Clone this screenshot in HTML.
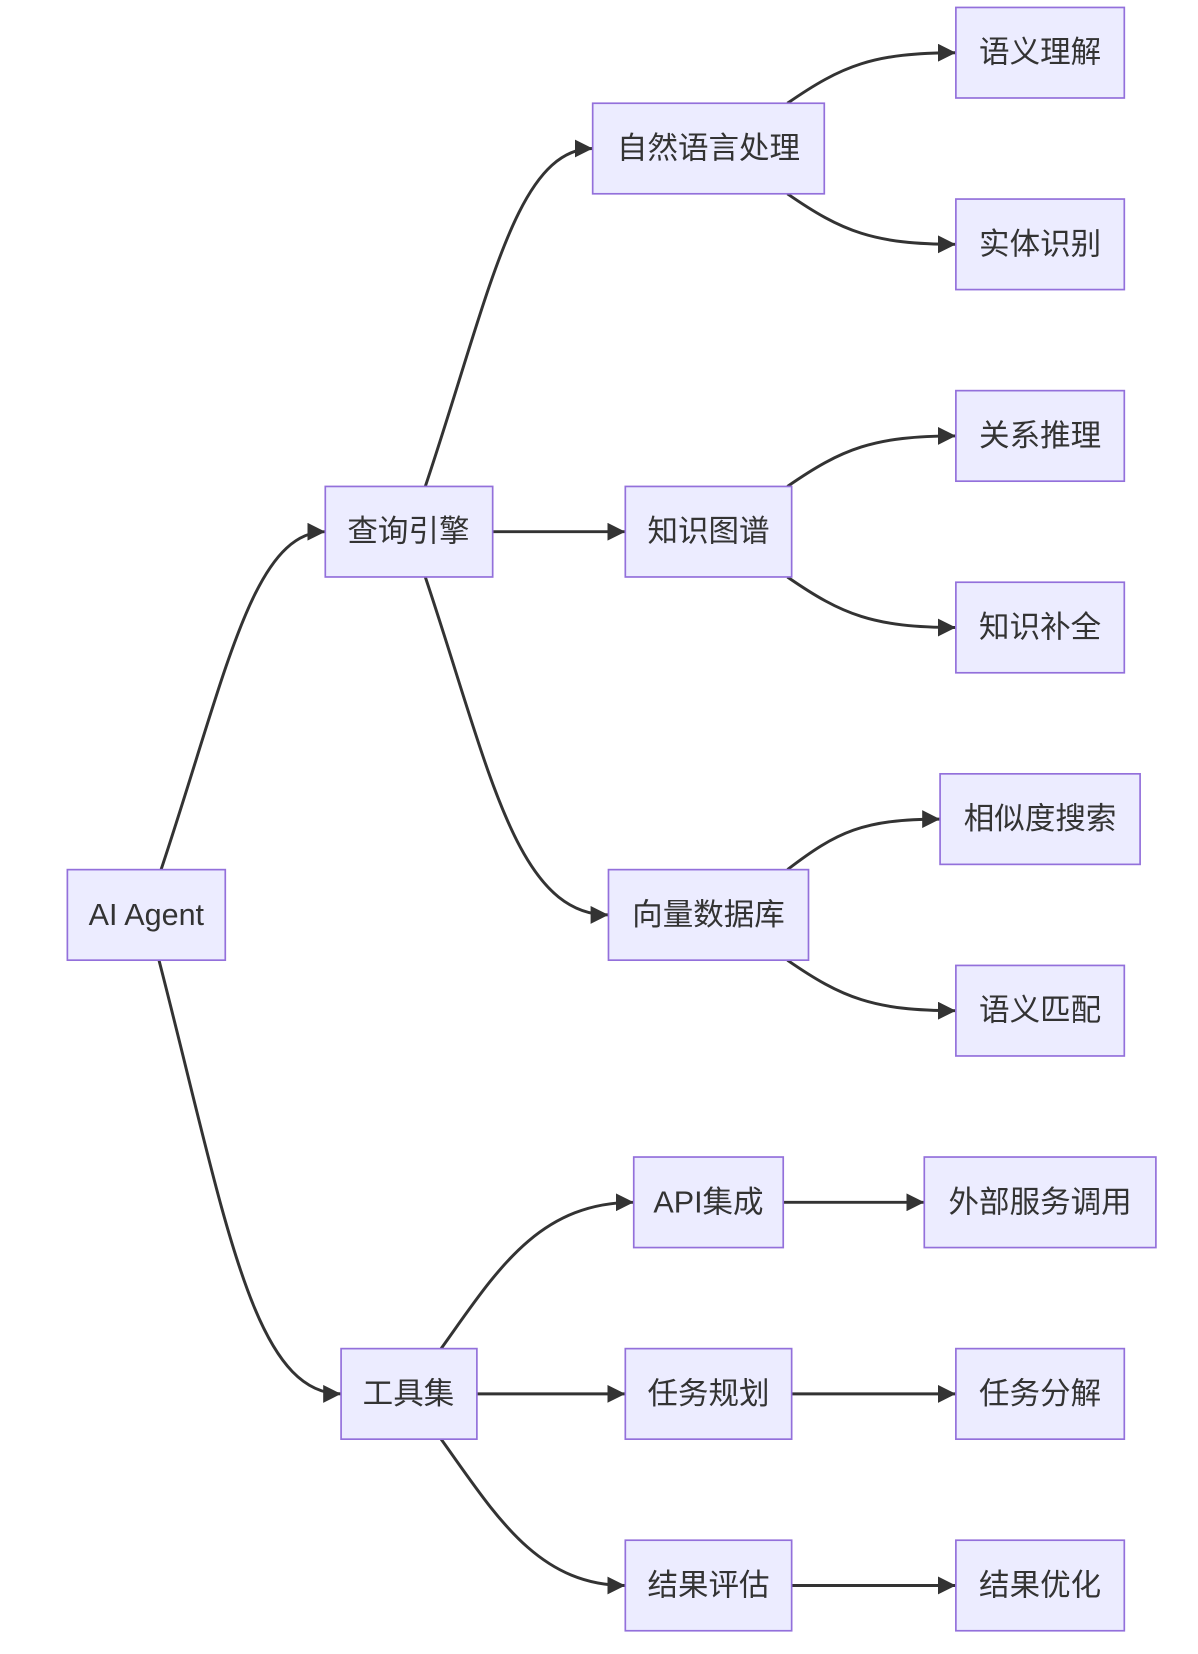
<!DOCTYPE html>
<html><head><meta charset="utf-8"><style>
html,body{margin:0;padding:0;background:#fff;}
svg{display:block;}
text{font-family:"Liberation Sans","Noto Sans CJK SC",sans-serif;font-size:29px;fill:#333;text-anchor:middle;dominant-baseline:central;}
.b{fill:#ECECFF;stroke:#9370DB;stroke-width:1.6;}
.e{fill:none;stroke:#333;stroke-width:2.8;marker-end:url(#ar);}
</style></head><body>
<svg width="1198" height="1654" viewBox="0 0 1138 1571" xmlns="http://www.w3.org/2000/svg">
<defs><marker id="ar" viewBox="0 0 10 10" refX="10" refY="5" markerUnits="userSpaceOnUse" markerWidth="17" markerHeight="17" orient="auto"><path d="M0,0 L10,5 L0,10 z" fill="#333"/></marker></defs>
<path class="e" d="M153,826 C215,640 240,505 309,505"/>
<path class="e" d="M151,912 C215,1160 240,1324 324,1324"/>
<path class="e" d="M404,462 C465,280 490,141 563,141"/>
<path class="e" d="M468,505 L594,505"/>
<path class="e" d="M404,548 C465,730 490,869 578,869"/>
<path class="e" d="M419,1281 C470,1210 510,1142 602,1142"/>
<path class="e" d="M453,1324 L594,1324"/>
<path class="e" d="M419,1367 C470,1438 510,1506 594,1506"/>
<path class="e" d="M748,98 C800,62 830,50 908,50"/>
<path class="e" d="M748,184 C800,220 830,232 908,232"/>
<path class="e" d="M748,462 C800,426 830,414 908,414"/>
<path class="e" d="M748,548 C800,584 830,596 908,596"/>
<path class="e" d="M748,826 C795,790 820,778 893,778"/>
<path class="e" d="M748,912 C800,948 830,960 908,960"/>
<path class="e" d="M744,1142 L878,1142"/>
<path class="e" d="M752,1324 L908,1324"/>
<path class="e" d="M752,1506 L908,1506"/>
<rect class="b" x="64" y="826" width="150" height="86"/><text x="139" y="869">AI Agent</text>
<rect class="b" x="309" y="462" width="159" height="86"/><text x="388" y="505">查询引擎</text>
<rect class="b" x="324" y="1281" width="129" height="86"/><text x="388" y="1324">工具集</text>
<rect class="b" x="563" y="98" width="220" height="86"/><text x="673" y="141">自然语言处理</text>
<rect class="b" x="594" y="462" width="158" height="86"/><text x="673" y="505">知识图谱</text>
<rect class="b" x="578" y="826" width="190" height="86"/><text x="673" y="869">向量数据库</text>
<rect class="b" x="602" y="1099" width="142" height="86"/><text x="673" y="1142">API集成</text>
<rect class="b" x="594" y="1281" width="158" height="86"/><text x="673" y="1324">任务规划</text>
<rect class="b" x="594" y="1463" width="158" height="86"/><text x="673" y="1506">结果评估</text>
<rect class="b" x="908" y="7" width="160" height="86"/><text x="988" y="50">语义理解</text>
<rect class="b" x="908" y="189" width="160" height="86"/><text x="988" y="232">实体识别</text>
<rect class="b" x="908" y="371" width="160" height="86"/><text x="988" y="414">关系推理</text>
<rect class="b" x="908" y="553" width="160" height="86"/><text x="988" y="596">知识补全</text>
<rect class="b" x="893" y="735" width="190" height="86"/><text x="988" y="778">相似度搜索</text>
<rect class="b" x="908" y="917" width="160" height="86"/><text x="988" y="960">语义匹配</text>
<rect class="b" x="878" y="1099" width="220" height="86"/><text x="988" y="1142">外部服务调用</text>
<rect class="b" x="908" y="1281" width="160" height="86"/><text x="988" y="1324">任务分解</text>
<rect class="b" x="908" y="1463" width="160" height="86"/><text x="988" y="1506">结果优化</text>
</svg>
</body></html>
